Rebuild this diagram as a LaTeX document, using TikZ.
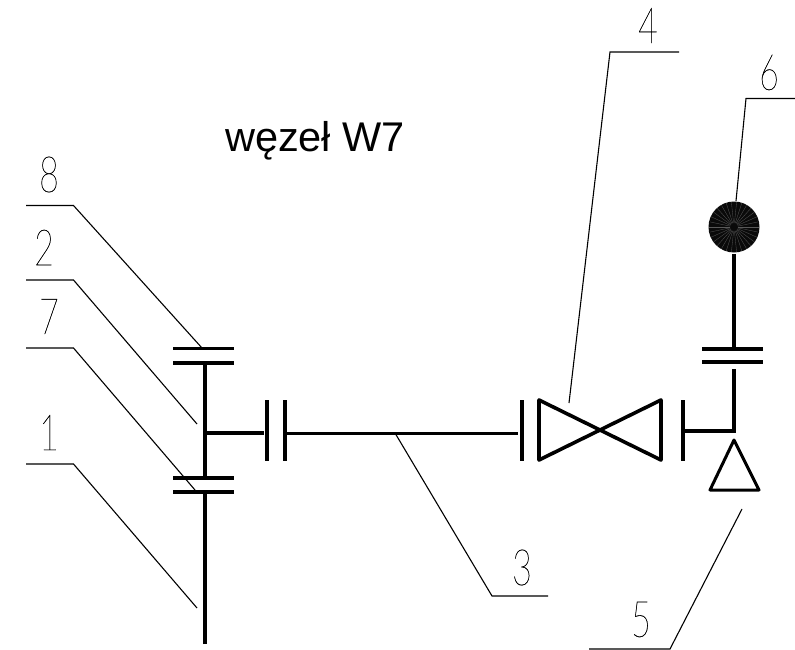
\documentclass[tikz,border=0pt]{standalone}
\usepackage{fontspec}
\usetikzlibrary{calc}
\setmainfont{Liberation Sans}
\newfontfamily\cadfont[FakeBold=0.35]{Lato Hairline}
\tikzset{
  pipe/.style={line width=3.6pt,line cap=butt,line join=miter},
  flange/.style={line width=3.8pt,line cap=butt},
  leader/.style={line width=1.1pt,line join=miter},
  posnum/.style={inner sep=0pt,outer sep=0pt,font=\cadfont\fontsize{50}{50}\selectfont,xscale=.68,text=black}
}
\begin{document}
\begin{tikzpicture}[x=1pt,y=-1pt]
\useasboundingbox (0,0) rectangle (795,650);
\fill[white] (0,0) rectangle (795,650);
\node[inner sep=0pt,font=\fontsize{41.5}{41.5}\selectfont] (title) at (315,141) {węzeł W7};
% pipes
\coordinate (a1) at (205,644); \coordinate (a2) at (205,492);
\coordinate (a3) at (205,478); \coordinate (a4) at (205,363);
\coordinate (b1) at (205,433); \coordinate (b2) at (264,433);
\coordinate (c1) at (284,433.5); \coordinate (c2) at (518,433.5);
\coordinate (d1) at (684,431); \coordinate (d2) at (734,431); \coordinate (d3) at (734,369);
\coordinate (e1) at (734,349); \coordinate (e2) at (734,254);
\draw[pipe] (a1)--(a2); \draw[pipe] (a3)--(a4); \draw[pipe] (b1)--(b2); \draw[pipe] (c1)--(c2);
\draw[pipe] (d1)--(d2)--(d3); \draw[pipe] (e1)--(e2);
% flanges
\draw[flange] (173,348.5)--(234,348.5); \draw[flange] (173,363)--(234,363);
\draw[flange] (173,478)--(234,478); \draw[flange] (173,492)--(234,492);
\draw[flange] (267,400)--(267,461); \draw[flange] (285,400)--(285,461);
\draw[flange] (522,400)--(522,461); \draw[flange] (683,400)--(683,461);
\draw[flange] (702,349)--(763,349); \draw[flange] (702,362)--(763,362);
% valve
\draw[pipe,line join=round] (539,400)--(661,460)--(661,400)--(539,460)--cycle;
% reducer triangle
\draw[line width=3pt,line join=round] (734,440)--(759,490)--(710,490)--cycle;
% gauge
\node[circle,fill=black!96,minimum size=51pt,inner sep=0pt] (gauge) at (734,227) {};
\foreach \a in {0,12,...,348}{\draw[white!35!black,line width=.3pt] ($(gauge.center)+(\a:4)$) -- ($(gauge.center)+(\a:25)$);}
% leaders
\coordinate (l8a) at (26,205.5); \coordinate (l8b) at (73.5,205.5); \coordinate (l8c) at (202,348);
\coordinate (l2a) at (26,280); \coordinate (l2b) at (73.5,280); \coordinate (l2c) at (197,424);
\coordinate (l7a) at (26,348); \coordinate (l7b) at (73.5,348); \coordinate (l7c) at (195,490);
\coordinate (l1a) at (26,464); \coordinate (l1b) at (73.5,464); \coordinate (l1c) at (197,608);
\coordinate (l3a) at (395,433); \coordinate (l3b) at (492,596); \coordinate (l3c) at (548,596);
\coordinate (l4a) at (679,52); \coordinate (l4b) at (610,52); \coordinate (l4c) at (569,403);
\coordinate (l5a) at (742,509); \coordinate (l5b) at (670,649); \coordinate (l5c) at (589,649);
\coordinate (l6a) at (795,98.5); \coordinate (l6b) at (746,98.5); \coordinate (l6c) at (736,201);
\foreach \n in {l8,l2,l7,l1,l3,l4,l5,l6}{\draw[leader] (\n a)--(\n b)--(\n c);}
% labels
\node[posnum] (n8) at (49,174.5) {8};
\node[posnum] (n2) at (44,247.5) {2};
\node[posnum] (n7) at (49,316.5) {7};
\node[posnum] (n1) at (49,432.5) {1};
\node[posnum] (n3) at (522,567.5) {3};
\node[posnum] (n4) at (648,25.5) {4};
\node[posnum] (n5) at (641,619.5) {5};
\node[posnum] (n6) at (769,72.5) {6};
\end{tikzpicture}
\end{document}
